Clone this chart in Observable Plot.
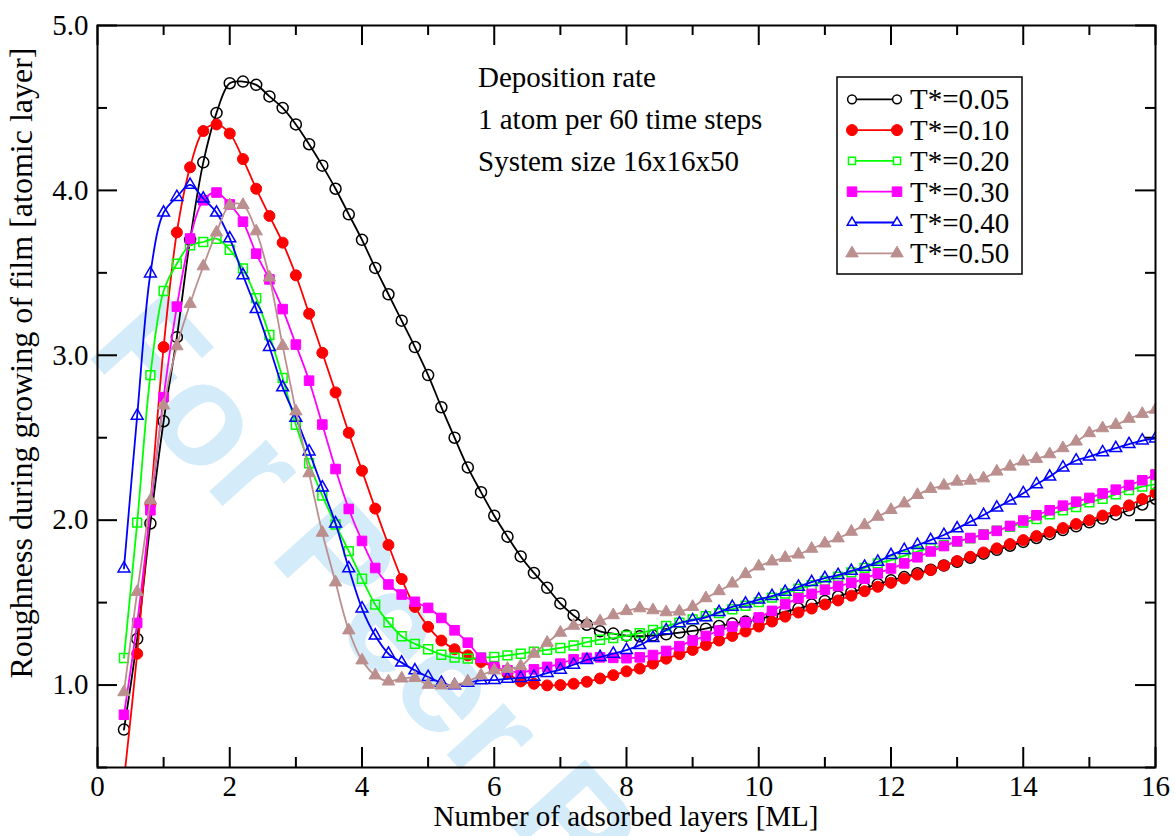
<!DOCTYPE html>
<html><head><meta charset="utf-8">
<script src="https://cdn.jsdelivr.net/npm/d3@7"></script>
<script src="https://cdn.jsdelivr.net/npm/@observablehq/plot@0.6"></script>
<style>body{margin:0;background:#fff} svg{display:block}</style>
</head><body><div id="chart"></div>
<script>
// ---- data ----
const layers = [0.4,0.6,0.8,1.0,1.2,1.4,1.6,1.8,2.0,2.2,
 2.4,2.6,2.8,3.0,3.2,3.4,3.6,3.8,4.0,4.2,
 4.4,4.6,4.8,5.0,5.2,5.4,5.6,5.8,6.0,6.2,
 6.4,6.6,6.8,7.0,7.2,7.4,7.6,7.8,8.0,8.2,
 8.4,8.6,8.8,9.0,9.2,9.4,9.6,9.8,10.0,10.2,
 10.4,10.6,10.8,11.0,11.2,11.4,11.6,11.8,12.0,12.2,
 12.4,12.6,12.8,13.0,13.2,13.4,13.6,13.8,14.0,14.2,
 14.4,14.6,14.8,15.0,15.2,15.4,15.6,15.8,16.0];
const t005 = [0.73,1.28,1.98,2.60,3.11,3.70,4.17,4.47,4.65,4.66,
 4.64,4.57,4.50,4.40,4.28,4.15,4.01,3.855,3.70,3.53,
 3.37,3.21,3.05,2.88,2.685,2.50,2.32,2.17,2.027,1.90,
 1.78,1.68,1.59,1.495,1.422,1.366,1.326,1.312,1.30,1.296,
 1.30,1.308,1.318,1.328,1.342,1.358,1.373,1.385,1.40,1.42,
 1.445,1.464,1.488,1.51,1.537,1.562,1.588,1.612,1.635,1.655,
 1.678,1.70,1.725,1.748,1.772,1.797,1.82,1.845,1.868,1.892,
 1.915,1.94,1.963,1.987,2.01,2.035,2.06,2.095,2.13];
const t010 = [0.42,1.19,2.10,3.05,3.745,4.14,4.36,4.40,4.345,4.19,
 4.01,3.845,3.683,3.485,3.252,3.015,2.775,2.53,2.30,2.07,
 1.85,1.643,1.474,1.353,1.27,1.217,1.18,1.14,1.11,1.07,
 1.022,1.008,0.998,1.0,1.008,1.02,1.04,1.06,1.083,1.10,
 1.13,1.16,1.187,1.213,1.243,1.27,1.298,1.325,1.355,1.385,
 1.415,1.44,1.464,1.489,1.513,1.542,1.569,1.596,1.62,1.646,
 1.67,1.697,1.725,1.752,1.778,1.804,1.829,1.855,1.879,1.904,
 1.928,1.952,1.977,2.00,2.028,2.058,2.09,2.128,2.165];
const t020 = [1.164,1.985,2.88,3.39,3.555,3.667,3.687,3.707,3.64,3.527,
 3.347,3.123,2.862,2.579,2.345,2.149,1.974,1.812,1.645,1.488,
 1.38,1.296,1.25,1.217,1.184,1.166,1.16,1.166,1.17,1.18,
 1.19,1.203,1.213,1.225,1.24,1.26,1.275,1.285,1.298,1.315,
 1.335,1.358,1.378,1.398,1.418,1.436,1.46,1.481,1.503,1.53,
 1.555,1.585,1.605,1.632,1.657,1.683,1.711,1.738,1.758,1.784,
 1.81,1.83,1.848,1.87,1.89,1.914,1.936,1.96,1.985,2.007,
 2.035,2.06,2.08,2.108,2.13,2.157,2.183,2.204,2.218];
const t030 = [0.82,1.377,2.06,2.746,3.295,3.708,3.94,3.987,3.915,3.81,
 3.616,3.46,3.28,3.065,2.846,2.58,2.31,2.068,1.874,1.71,
 1.61,1.549,1.505,1.468,1.407,1.332,1.257,1.166,1.11,1.09,
 1.075,1.095,1.11,1.13,1.156,1.165,1.168,1.165,1.163,1.168,
 1.182,1.207,1.236,1.27,1.298,1.33,1.355,1.38,1.41,1.45,
 1.49,1.527,1.553,1.578,1.60,1.62,1.646,1.677,1.707,1.738,
 1.775,1.81,1.843,1.872,1.892,1.912,1.935,1.965,1.998,2.03,
 2.06,2.088,2.112,2.135,2.162,2.185,2.213,2.242,2.277];
const t040 = [1.707,2.633,3.496,3.865,3.96,4.033,3.95,3.865,3.709,3.485,
 3.28,3.05,2.805,2.62,2.416,2.198,1.98,1.708,1.464,1.30,
 1.19,1.136,1.089,1.049,1.014,0.998,1.014,1.028,1.03,1.038,
 1.043,1.05,1.073,1.093,1.123,1.152,1.17,1.19,1.212,1.242,
 1.285,1.332,1.375,1.393,1.41,1.442,1.474,1.494,1.518,1.54,
 1.565,1.596,1.624,1.648,1.667,1.692,1.717,1.748,1.788,1.819,
 1.849,1.879,1.91,1.95,1.99,2.031,2.076,2.119,2.163,2.218,
 2.264,2.319,2.362,2.386,2.412,2.437,2.461,2.483,2.495];
const t050 = [0.957,1.565,2.12,2.696,3.055,3.312,3.54,3.745,3.91,3.912,
 3.752,3.472,3.057,2.66,2.285,1.924,1.623,1.332,1.15,1.059,
 1.022,1.04,1.043,1.002,0.998,1.002,1.022,1.059,1.089,1.099,
 1.115,1.19,1.257,1.318,1.36,1.372,1.387,1.424,1.449,1.466,
 1.454,1.442,1.446,1.474,1.527,1.57,1.616,1.673,1.72,1.75,
 1.772,1.792,1.827,1.859,1.89,1.93,1.97,2.021,2.062,2.102,
 2.153,2.19,2.21,2.234,2.24,2.254,2.295,2.325,2.356,2.372,
 2.40,2.437,2.477,2.528,2.558,2.578,2.615,2.645,2.67];
const seriesNames = ["T*=0.05","T*=0.10","T*=0.20","T*=0.30","T*=0.40","T*=0.50"];
const seriesValues = [t005, t010, t020, t030, t040, t050];
const xMajor = [0,2,4,6,8,10,12,14,16];
const xMinor = [1,3,5,7,9,11,13,15];
const yMajor = [1,2,3,4,5];
const yMinor = [0.5,1.5,2.5,3.5,4.5];
const yTickLabels = ["1.0","2.0","3.0","4.0","5.0"];
const noteLines = ["Deposition rate","1 atom per 60 time steps","System size 16x16x50"];
const xTitle = "Number of adsorbed layers [ML]";
const yTitle = "Roughness during growing of film [atomic layer]";
const watermark = "For Peer Review";

// ---- styles ----
const styles = [
  {color:"#000000", symbol:"circle",   open:true,  r:5.5},
  {color:"#ff0000", symbol:"circle",   open:false, r:5.5},
  {color:"#00ff00", symbol:"square",   open:true,  r:5.0},
  {color:"#ff00ff", symbol:"square",   open:false, r:5.4},
  {color:"#0000ff", symbol:"triangle", open:true,  r:4.4},
  {color:"#bc8f8f", symbol:"triangle", open:false, r:4.6}
];
const FONT = "Liberation Serif, Times New Roman, serif";
const W = 1175, H = 836, ML = 97, MR = 20, MT = 25, MB = 69;
const PW = W - ML - MR, PH = H - MT - MB;

const rows = [];
seriesNames.forEach((name, s) => {
  seriesValues[s].forEach((v, i) => rows.push({x: layers[i], y: v, series: name}));
});

const marks = [];
// ticks (inward, all four sides)
marks.push(
  Plot.ruleX(xMajor, {x: d => d, insetTop: PH - 20, stroke: "black", strokeWidth: 2}),
  Plot.ruleX(xMinor, {x: d => d, insetTop: PH - 10, stroke: "black", strokeWidth: 2}),
  Plot.ruleX(xMajor, {x: d => d, insetBottom: PH - 20, stroke: "black", strokeWidth: 2}),
  Plot.ruleX(xMinor, {x: d => d, insetBottom: PH - 10, stroke: "black", strokeWidth: 2}),
  Plot.ruleY(yMajor, {y: d => d, insetRight: PW - 20, stroke: "black", strokeWidth: 2}),
  Plot.ruleY(yMinor, {y: d => d, insetRight: PW - 10, stroke: "black", strokeWidth: 2}),
  Plot.ruleY(yMajor, {y: d => d, insetLeft: PW - 20, stroke: "black", strokeWidth: 2}),
  Plot.ruleY(yMinor, {y: d => d, insetLeft: PW - 10, stroke: "black", strokeWidth: 2})
);
seriesNames.forEach((name, s) => {
  const st = styles[s];
  const data = rows.filter(d => d.series === name);
  marks.push(Plot.line(data, {x: "x", y: "y", stroke: st.color, strokeWidth: 1.8, curve: "catmull-rom", clip: true}));
  marks.push(Plot.dot(data, {x: "x", y: "y", symbol: st.symbol, r: st.r,
    stroke: st.color, strokeWidth: st.open ? 1.5 : 1,
    fill: st.open ? "none" : st.color, clip: true}));
});
marks.push(
  Plot.frame({stroke: "black", strokeWidth: 2}),
  Plot.axisX({ticks: xMajor, tickSize: 0, tickPadding: 8, tickFormat: d => String(d), label: null, fontSize: 29}),
  Plot.axisY({ticks: yMajor, tickSize: 0, tickPadding: 9, tickFormat: d => yTickLabels[yMajor.indexOf(d)], label: null, fontSize: 29})
);

const chart = Plot.plot({
  width: W, height: H,
  marginLeft: ML, marginRight: MR, marginTop: MT, marginBottom: MB,
  x: {domain: [0, 16]},
  y: {domain: [0.5, 5.0]},
  style: {fontFamily: FONT, fontSize: "29px", color: "black", background: "white"},
  marks
});
document.getElementById("chart").appendChild(chart);

const svg = d3.select(chart);
// watermark behind everything
svg.insert("text", ":first-child")
  .attr("transform", "translate(84,352) rotate(48)")
  .attr("text-anchor", "start")
  .attr("font-family", "Liberation Sans, Arial, sans-serif")
  .attr("font-weight", "bold").attr("font-size", 145)
  .attr("fill", "#d4ecf9").text(watermark);

// axis titles
svg.append("text").attr("x", 626).attr("y", 826).attr("text-anchor", "middle")
  .attr("font-family", FONT).attr("font-size", 29).text(xTitle);
svg.append("text").attr("transform", "translate(32,363) rotate(-90)").attr("text-anchor", "middle")
  .attr("font-family", FONT).attr("font-size", 32).text(yTitle);

// annotation
noteLines.forEach((t, i) => {
  svg.append("text").attr("x", 478).attr("y", 87 + i * 42).attr("text-anchor", "start")
    .attr("font-family", FONT).attr("font-size", 29).text(t);
});

// legend
const lg = svg.append("g");
lg.append("rect").attr("x", 837).attr("y", 77).attr("width", 185).attr("height", 197)
  .attr("fill", "white").attr("stroke", "black").attr("stroke-width", 1.5);
const symMap = {circle: d3.symbolCircle, square: d3.symbolSquare, triangle: d3.symbolTriangle};
seriesNames.forEach((name, s) => {
  const st = styles[s];
  const yy = 99.3 + s * 30.8;
  lg.append("line").attr("x1", 852).attr("x2", 897).attr("y1", yy).attr("y2", yy)
    .attr("stroke", st.color).attr("stroke-width", 1.8);
  const rr = st.open ? st.r * 0.8 : st.r;
  [852, 897].forEach(px => {
    lg.append("path").attr("d", d3.symbol(symMap[st.symbol], Math.PI * rr * rr)())
      .attr("transform", `translate(${px},${yy})`)
      .attr("fill", st.open ? "white" : st.color).attr("stroke", st.color)
      .attr("stroke-width", st.open ? 1.5 : 1);
  });
  lg.append("text").attr("x", 910).attr("y", yy + 10).attr("text-anchor", "start")
    .attr("font-family", FONT).attr("font-size", 29).text(name);
});
</script>
</body></html>
